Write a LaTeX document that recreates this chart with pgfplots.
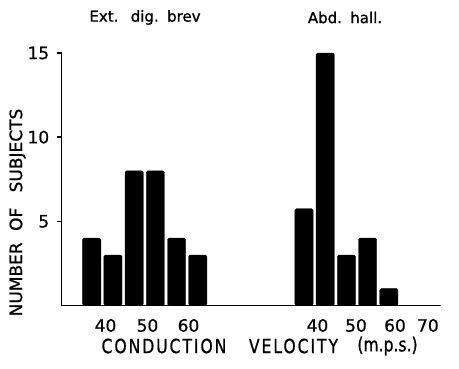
\documentclass[border=0pt]{standalone}
\usepackage{pgfplots}
\pgfplotsset{compat=1.18}
\usepackage{pgfplotstable}
\usepackage{fontspec}
\setmainfont{DejaVu Sans}[FakeBold=0.8]
\newfontfamily\xlabfont{DejaVu Sans}[FakeStretch=0.8, LetterSpace=10, FakeBold=0.8]
\newfontfamily\mpsfont{DejaVu Sans}[FakeStretch=0.8, FakeBold=0.8]
\newfontfamily\titlefont{DejaVu Sans}[FakeBold=1.2]
\pgfplotstableread{
v n
37.5 4
42.5 3
47.5 8
52.5 8
57.5 4
62.5 3
}\extdig
\pgfplotstableread{
v n
37.5 5.75
42.5 15
47.5 3
52.5 4
57.5 1
}\abdhall
\begin{document}
\begin{tikzpicture}
\useasboundingbox (0,0) rectangle (459pt,368pt);
\begin{axis}[
  at={(61.7pt,62.5pt)}, anchor=south west,
  scale only axis, width=378.3pt, height=252.5pt,
  xmin=30.43, xmax=119.55, ymin=0, ymax=15,
  axis x line*=bottom, axis y line*=left,
  axis line style={line width=1.6pt, line cap=round},
  xtick={40.75,50.64,60.3,90.69,99.76,108.95,116.7},
  xticklabels={40,50,60,40,50,60,70},
  xtick style={draw=none},
  ytick={5,10,15},
  ytick align=outside, major tick length=5pt,
  ytick style={line width=1.4pt, black},
  /pgf/number format/assume math mode=true,
  tick label style={font=\fontsize{17}{20}\selectfont},
  xticklabel style={yshift=-5pt},
  yticklabel style={xshift=-4pt},
  ybar, bar width=4.29, bar shift=0pt,
  clip=false,
]
\addplot[fill=black, draw=black, rounded corners=1.5pt] table[x=v, y=n] {\extdig};
\addplot[fill=black, draw=black, rounded corners=1.5pt] table[x expr=\thisrow{v}+50, y=n] {\abdhall};
\end{axis}
\node[rotate=90, font=\fontsize{17}{20}\selectfont] at (17.5pt,155.5pt) {NUMBER\hspace{6pt} OF\hspace{10pt} SUBJECTS};
\node[font=\xlabfont\fontsize{19.5}{22}\selectfont] at (164pt,22pt) {CONDUCTION};
\node[font=\xlabfont\fontsize{19.5}{22}\selectfont] at (293.5pt,22pt) {VELOCITY};
\node[font=\mpsfont\fontsize{19.5}{22}\selectfont] at (387.5pt,22pt) {(m.p.s.)};
\node[font=\titlefont\fontsize{15}{18}\selectfont] at (145pt,350.5pt) {Ext.\hspace{6pt} dig.\hspace{2pt} brev};
\node[font=\titlefont\fontsize{15}{18}\selectfont] at (345pt,350.5pt) {Abd.\hspace{2pt} hall.};
\end{tikzpicture}
\end{document}
